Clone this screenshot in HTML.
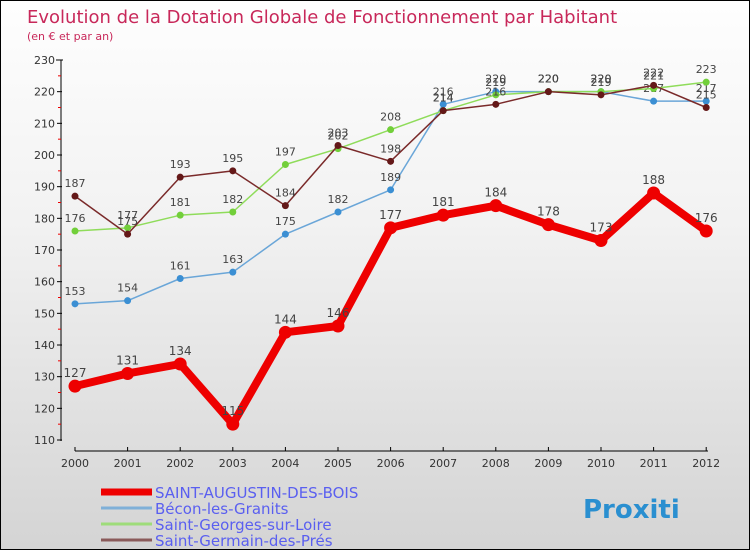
<!DOCTYPE html>
<html><head><meta charset="utf-8"><style>
body{margin:0}
#c{width:748px;height:548px;border:1px solid #000;position:relative;background:linear-gradient(#fefefe,#f2f2f2 40%,#d4d4d4);font-family:"DejaVu Sans","Liberation Sans",sans-serif;overflow:hidden}
</style></head><body>
<div id="c">
<svg id="s" width="748" height="548"></svg>
</div>
<script>
const years=["2000","2001","2002","2003","2004","2005","2006","2007","2008","2009","2010","2011","2012"];
const augustin=[127,131,134,115,144,146,177,181,184,178,173,188,176];
const becon=[153,154,161,163,175,182,189,216,220,220,220,217,217];
const georges=[176,177,181,182,197,202,208,214,219,220,220,221,223];
const germain=[187,175,193,195,184,203,198,214,216,220,219,222,215];
const yTicks=[110,120,130,140,150,160,170,180,190,200,210,220,230];
const seriesNames=["SAINT-AUGUSTIN-DES-BOIS","Bécon-les-Granits","Saint-Georges-sur-Loire","Saint-Germain-des-Prés"];
const NS="http://www.w3.org/2000/svg";
const s=document.getElementById('s');
function X(i){return 74+i*52.6;}
function Y(v){return 439-(v-110)*380/120;}
function el(t,a,p){const e=document.createElementNS(NS,t);for(const k in a)e.setAttribute(k,a[k]);(p||s).appendChild(e);return e;}
function tx(x,y,str,a){const e=el('text',Object.assign({x:x,y:y},a));e.textContent=str;return e;}
const title=tx(26,22,"Evolution de la Dotation Globale de Fonctionnement par Habitant",{fill:"#c8285a","font-size":"18"});

const sub=tx(26,39,"(en € et par an)",{fill:"#c8285a","font-size":"11"});

// y axis
const ya=el('line',{x1:60,y1:59,x2:60,y2:440,stroke:"#000"});

yTicks.forEach((v,i)=>{
  el('line',{x1:56,y1:Y(v),x2:61,y2:Y(v),stroke:"#000"});
  const t=tx(54,Y(v)+4,String(v),{"text-anchor":"end","font-size":"11",fill:"#333"});
  
  if(i<yTicks.length-1)el('line',{x1:57,y1:Y(v+5),x2:60,y2:Y(v+5),stroke:"#e00"});
});
el('line',{x1:55,y1:59,x2:62,y2:59,stroke:"#000"});
const xa=el('line',{x1:74,y1:450,x2:707,y2:450,stroke:"#000"});

years.forEach((y,i)=>{
  el('line',{x1:X(i),y1:446,x2:X(i),y2:450,stroke:"#000"});
  const t=tx(X(i),466,y,{"text-anchor":"middle","font-size":"11",fill:"#333"});
  
});
function series(vals,color,dot,w,r,name,fs){
  const g=el('g',{});
  
  el('polyline',{points:vals.map((v,i)=>X(i)+","+Y(v)).join(" "),fill:"none",stroke:color,"stroke-width":w,"stroke-linejoin":"round"},g);
  vals.forEach((v,i)=>{
    const c=el('circle',{cx:X(i),cy:Y(v),r:r,fill:dot},g);
    
    tx(X(i),Y(v)-9,String(v),{"text-anchor":"middle","font-size":fs,fill:"#444"},g);
  });
}
series(becon,"#6aa6d8","#3b8fd3",1.5,3.5,"series-becon","11");
series(georges,"#8fdc5a","#72cf3a",1.5,3.5,"series-georges","11");
series(germain,"#7a2a2a","#641818",1.5,3.5,"series-germain","11");
series(augustin,"#ee0000","#ee0000",8,6.5,"series-augustin","12");
// legend
const lc=["#ee0000","#7fb0d8","#9edc7a","#8a5a5a"],lw=[7,3,3,3],ly=[492,508,524,540];
seriesNames.forEach((n,i)=>{
  const g=el('g',{});
  el('line',{x1:100,y1:ly[i]-1,x2:151,y2:ly[i]-1,stroke:lc[i],"stroke-width":lw[i]},g);
  tx(154,ly[i]+5,n,{fill:"#5a5ff0","font-size":"15"},g);
});
const logo=tx(582,517,"Proxiti",{"font-size":"26","font-weight":"bold",fill:"#2a8fd0"});

</script>
</body></html>
